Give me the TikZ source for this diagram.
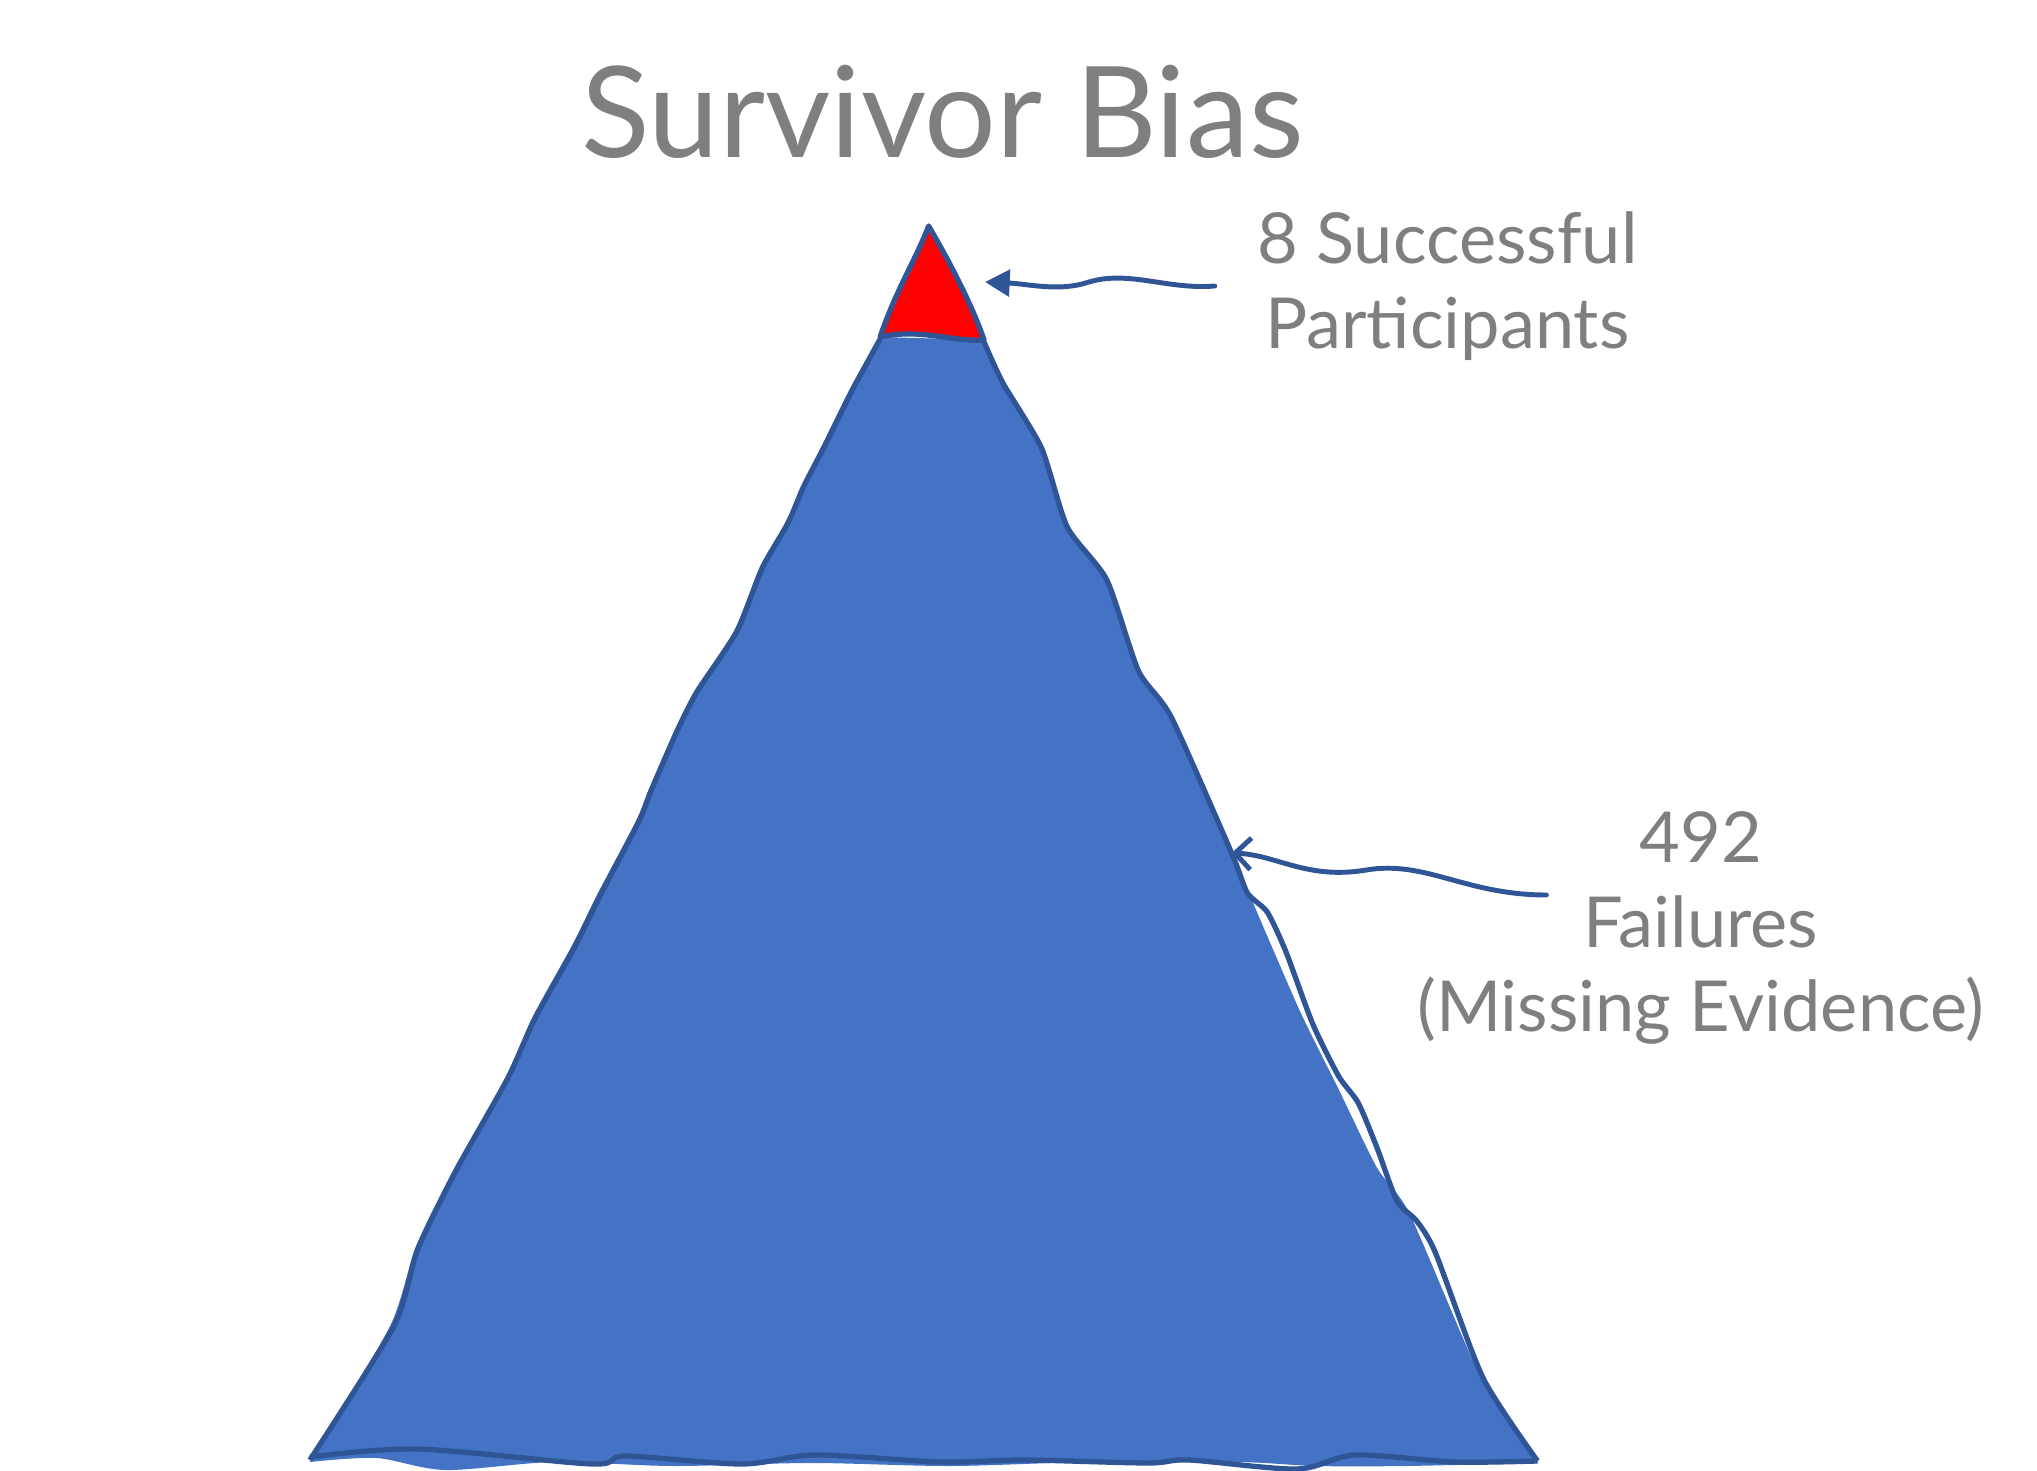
\documentclass[tikz,border=0pt]{standalone}
\usepackage{fontspec}
\setmainfont{Lato}
\usepackage{xcolor}
\usetikzlibrary{arrows.meta}
\usetikzlibrary{calc}
\definecolor{peakblue}{HTML}{4472C4}
\definecolor{edgeblue}{HTML}{2F5597}
\definecolor{notegray}{HTML}{7F7F7F}
\begin{document}
\begin{tikzpicture}[
    x=0.01cm, y=-0.01cm,
    note/.style={text=notegray, font=\fontsize{20}{24}\selectfont, align=center},
    edge/.style={draw=edgeblue, line width=1.5pt, line join=round},
    pointer/.style={draw=edgeblue, line width=1.4pt, line cap=round}
  ]
    \useasboundingbox (0, 0) rectangle (2037, 1471);

  \begin{scope}[xscale=0.99]
    % body of the pyramid
    \fill [peakblue] plot [smooth, tension=0.4] coordinates {
      (889,337) (860,386) (833,440) (794,521) (768,566) (742,630)
      (702,690) (682,729) (656,788) (643,820) (604,893) (578,945)
      (538,1017) (512,1076) (459,1168) (420,1247) (394,1326) (313,1462)}
    -- plot [smooth, tension=0.5] coordinates {
      (313,1462) (380,1458) (450,1470) (560,1462) (680,1466)
      (820,1463) (960,1466) (1100,1462) (1250,1462) (1330,1466)
      (1420,1466) (1553,1463)}
    -- plot [smooth, tension=0.4] coordinates {
      (1553,1463) (1496,1378) (1424,1214) (1391,1168) (1352,1089)
      (1313,1011) (1267,906) (1244,853) (1181,715) (1148,669)
      (1116,578) (1076,525) (1050,446) (1011,381) (994,340)}
    -- cycle;

    % outline of the pyramid
    \draw [edge] plot [smooth, tension=0.4] coordinates {
      (889,339) (862,388) (835,442) (812,486) (796,523) (770,568)
      (744,632) (704,692) (684,731) (658,790) (645,822) (606,896)
      (580,948) (540,1019) (513,1078) (461,1170) (422,1249)
      (398,1326) (313,1460)};
    \draw [edge] plot [smooth, tension=0.4] coordinates {
      (994,342) (1013,383) (1052,448) (1078,527) (1118,580)
      (1150,671) (1183,717) (1244,853) (1260,893) (1280,912)
      (1299,952) (1326,1024) (1352,1076) (1372,1103) (1391,1148)
      (1411,1201) (1431,1221) (1450,1253) (1498,1378) (1553,1461)};
    \draw [edge] plot [smooth, tension=0.5] coordinates {
      (313,1457) (422,1449) (598,1464) (632,1456) (749,1464)
      (824,1455) (950,1462) (1034,1460) (1159,1463) (1201,1460)
      (1310,1469) (1369,1455) (1469,1462) (1553,1461)};

    % red tip
    \filldraw [fill=red, edge] (938,226)
      .. controls (925,260) and (905,290) .. (889,337)
      .. controls (930,328) and (960,342) .. (994,340)
      .. controls (980,300) and (955,255) .. cycle;

    % title and notes
    \node [text=notegray, font=\fontsize{36}{42}\selectfont] (title) at (952,112)
      {Survivor Bias};
    \node [note] (succ) at (1462,286) {8 Successful\\Participants};
    \node [note] (fail) at (1718,928) {492\\Failures\\(Missing Evidence)};

    \coordinate (succ tail) at (1227,286);
    \coordinate (succ tip)  at (995,282);
    \coordinate (fail tail) at (1562,895);
    \coordinate (fail tip)  at (1244,853);

    \draw [pointer, -{Triangle[width=7.5pt, length=7pt]}] (succ tail)
      .. controls (1180,290) and (1140,270) .. (1100,282)
      .. controls (1070,292) and (1040,284) .. (succ tip);
    \draw [pointer, -{Straight Barb[width=9pt, length=4.5pt]}] (fail tail)
      .. controls (1480,895) and (1440,860) .. (1380,870)
      .. controls (1320,880) and (1290,855) .. (fail tip);
  \end{scope}

  \end{tikzpicture}
\end{document}
